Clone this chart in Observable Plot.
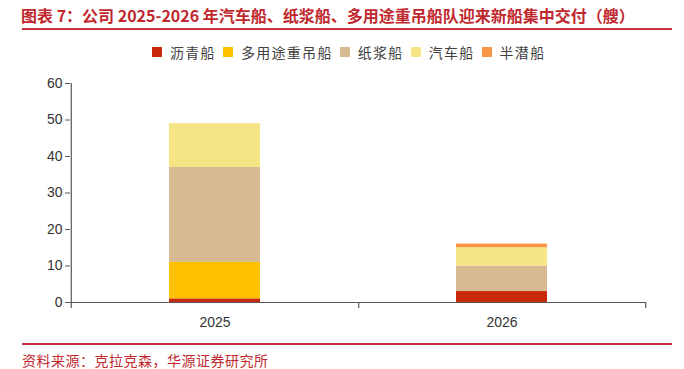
<!DOCTYPE html>
<html>
<head>
<meta charset="utf-8">
<script src="https://cdn.jsdelivr.net/npm/d3@7"></script>
<script src="https://cdn.jsdelivr.net/npm/@observablehq/plot@0.6"></script>
<style>
  body { margin: 0; background: #fff; }
  #wrap { position: relative; width: 684px; height: 369px; overflow: hidden; background: #fff; font-family: "Noto Sans CJK SC", sans-serif; }
  #title { position: absolute; left: 21px; top: 5px; font-size: 16px; line-height: 20px; font-weight: 600; color: #C0282E; white-space: nowrap; }
  .redline { position: absolute; left: 22px; width: 650px; height: 2px; background: #C8323A; }
  #legend { position: absolute; left: 152px; top: 43px; display: flex; align-items: center; font-size: 14px; line-height: 18px; color: #404040; letter-spacing: 1.3px; white-space: nowrap; }
  .item { display: flex; align-items: center; margin-right: 7px; }
  .sw { width: 10px; height: 10px; margin-right: 8px; }
  #chart { position: absolute; left: 0; top: 60px; }
  #source { position: absolute; left: 22px; top: 351px; font-size: 14px; line-height: 18px; color: #C0282E; letter-spacing: 0.5px; white-space: nowrap; }
</style>
</head>
<body>
<div id="wrap">
  <div id="title">图表 7：公司 2025-2026 年汽车船、纸浆船、多用途重吊船队迎来新船集中交付（艘）</div>
  <div class="redline" style="top:28px"></div>
  <div id="legend"></div>
  <div id="chart"></div>
  <div class="redline" style="top:343px"></div>
  <div id="source">资料来源：克拉克森，华源证券研究所</div>
</div>
<script>
// ---- data ----
const years = ["2025", "2026"];
const types = ["沥青船", "多用途重吊船", "纸浆船", "汽车船", "半潜船"];
const colors = ["#C8290A", "#FFC000", "#D7B992", "#F6E585", "#F79646"];
const asphalt = [1, 3];
const multiPurpose = [10, 0];
const pulp = [26, 7];
const car = [12, 5];
const semiSub = [0, 1];
const yTicks = [0, 10, 20, 30, 40, 50, 60];

const series = [asphalt, multiPurpose, pulp, car, semiSub];
const rows = [];
types.forEach((t, i) => years.forEach((y, j) => rows.push({year: y, type: t, value: series[i][j]})));

// legend
const legend = document.getElementById("legend");
types.forEach((t, i) => {
  const it = document.createElement("div");
  it.className = "item";
  it.innerHTML = `<span class="sw" style="background:${colors[i]}"></span><span>${t}</span>`;
  legend.appendChild(it);
});

// layout
const W = 684, H = 280;
const mL = 70, mR = 38, mT = 23, mB = 38;
const pIn = 0.684, pOut = 0.344;
const step = (W - mL - mR) / (years.length - pIn + 2 * pOut);
const tickLen = 6 / ((H - mT - mB) / 60); // 6px in data units

const axisColor = "#595959";
const chart = Plot.plot({
  width: W, height: H,
  marginLeft: mL, marginRight: mR, marginTop: mT, marginBottom: mB,
  style: { fontFamily: "'Liberation Sans', Arial, sans-serif", fontSize: "14px", color: "#333", background: "transparent" },
  x: { domain: years, paddingInner: pIn, paddingOuter: pOut, label: null },
  y: { domain: [0, 60], label: null },
  color: { domain: types, range: colors },
  marks: [
    Plot.barY(rows, { x: "year", y: "value", fill: "type", inset: 0 }),
    Plot.ruleY([0], { stroke: axisColor, strokeWidth: 1.2 }),
    Plot.ruleX([years[0]], { dx: -step / 2, y1: -tickLen, y2: 60, stroke: axisColor, strokeWidth: 1.2 }),
    Plot.ruleX(years, { dx: step / 2, y1: -tickLen, y2: 0, stroke: axisColor, strokeWidth: 1.2 }),
    Plot.axisY({ ticks: yTicks, tickSize: 5, tickPadding: 3, stroke: axisColor, fill: "#333", label: null }),
    Plot.axisX({ tickSize: 0, tickPadding: 15, fill: "#333", label: null })
  ]
});
document.getElementById("chart").appendChild(chart);
</script>
</body>
</html>
